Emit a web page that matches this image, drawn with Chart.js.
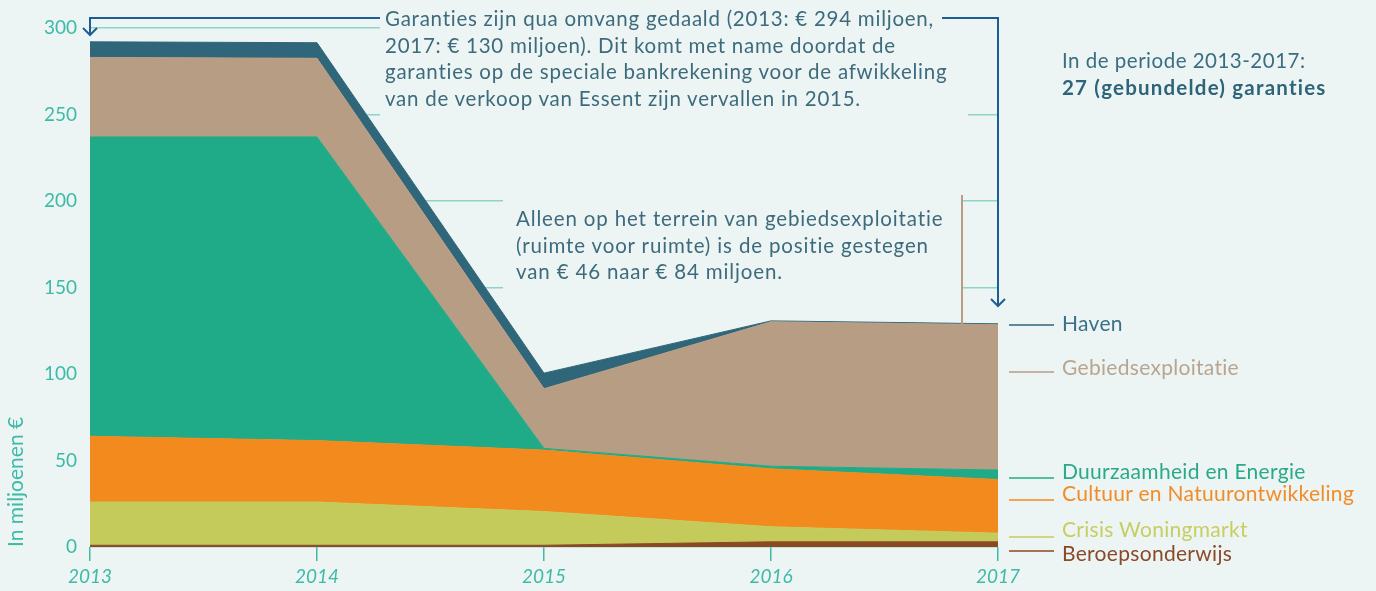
<!DOCTYPE html>
<html>
<head>
<meta charset="utf-8">
<script src="https://cdn.jsdelivr.net/npm/chart.js@4.4.1/dist/chart.umd.min.js"></script>
<style>
html, body { margin: 0; padding: 0; background: #ecf5f3; }
#wrap { position: relative; width: 1376px; height: 591px; font-family: Lato, 'Open Sans', sans-serif; }
#wrap canvas { position: absolute; left: 0; top: 0; }
.note { position: absolute; color: #3d6b7d; font-size: 20.5px; line-height: 26.7px; letter-spacing: 0.75px; white-space: nowrap; }
.leg { position: absolute; left: 1062px; font-size: 21px; line-height: 22px; letter-spacing: 0.3px; white-space: nowrap; }
</style>
</head>
<body>
<div id="wrap">
  <canvas id="garanties" width="1376" height="591"></canvas>

  <div class="note" style="left:385px; top:5px;">Garanties zijn qua omvang gedaald (2013: € 294 miljoen,<br>2017: € 130 miljoen). Dit komt met name doordat de<br>garanties op de speciale bankrekening voor de afwikkeling<br>van de verkoop van Essent zijn vervallen in 2015.</div>
  <div class="note" style="left:516px; top:205px; letter-spacing:0.85px;">Alleen op het terrein van gebiedsexploitatie<br>(ruimte voor ruimte) is de positie gestegen<br>van € 46 naar € 84 miljoen.</div>
  <div class="note" style="left:1062px; top:47px; color:#3a6e82; letter-spacing:0.5px;">In de periode 2013-2017:<br><b style="color:#2e6479; letter-spacing:1.2px;">27 (gebundelde) garanties</b></div>

  <div class="leg" style="top:312px; color:#3a7088;">Haven</div>
  <div class="leg" style="top:356px; color:#b9a58f;">Gebiedsexploitatie</div>
  <div class="leg" style="top:460px; color:#2aa98a;">Duurzaamheid en Energie</div>
  <div class="leg" style="top:482px; color:#f28c28;">Cultuur en Natuurontwikkeling</div>
  <div class="leg" style="top:518px; color:#c8cd62;">Crisis Woningmarkt</div>
  <div class="leg" style="top:542px; color:#8a4a2a;">Beroepsonderwijs</div>
</div>

<script>
'use strict';

// data, in miljoenen euro (stacked from the bottom up)
var years = ['2013', '2014', '2015', '2016', '2017'];
var beroepsonderwijs = [1, 1, 1, 3, 3];
var crisisWoningmarkt = [25, 25, 19.5, 8.7, 5];
var cultuurNatuur = [38, 35.5, 35.5, 33.5, 31];
var duurzaamheid = [173, 175.5, 1, 1.5, 5.5];
var gebiedsexploitatie = [46, 45.5, 34.5, 83.5, 84];
var haven = [9, 9, 9, 0.5, 0.5];
var yTicks = [0, 50, 100, 150, 200, 250, 300];

var bg = '#ecf5f3';
var teal = '#3dbaa8';
var arrowBlue = '#1d5e92';

var series = [
  { label: 'Beroepsonderwijs', data: beroepsonderwijs, color: '#8b4a22' },
  { label: 'Crisis Woningmarkt', data: crisisWoningmarkt, color: '#c5cb5b' },
  { label: 'Cultuur en Natuurontwikkeling', data: cultuurNatuur, color: '#f28a1e' },
  { label: 'Duurzaamheid en Energie', data: duurzaamheid, color: '#1fab87' },
  { label: 'Gebiedsexploitatie', data: gebiedsexploitatie, color: '#b79d84' },
  { label: 'Haven', data: haven, color: '#2f6679' }
];

// height of each legend dash on the right, same order as series
var legendLines = [551, 537, 500, 478, 372, 325];

var datasets = series.map(function(s, i) {
  return {
    label: s.label,
    data: s.data,
    backgroundColor: s.color,
    borderColor: s.color,
    borderWidth: 1,
    pointRadius: 0,
    tension: 0,
    fill: i === 0 ? 'origin' : '-1'
  };
});

function arrowDown(ctx, x, y) {
  ctx.beginPath();
  ctx.moveTo(x - 7, y - 7);
  ctx.lineTo(x, y);
  ctx.lineTo(x + 7, y - 7);
  ctx.stroke();
}

var notesPlugin = {
  id: 'notes',
  beforeDatasetsDraw: function(chart) {
    // the text boxes sit on top of the grid lines
    var ctx = chart.ctx;
    ctx.save();
    ctx.fillStyle = bg;
    ctx.fillRect(380, 0, 620, 40);
    ctx.fillRect(380, 40, 588, 82);
    ctx.fillRect(503, 185, 458, 115);
    ctx.restore();
  },
  afterDraw: function(chart) {
    var ctx = chart.ctx;
    var xs = chart.scales.x;
    var x0 = xs.getPixelForValue(0);
    var x4 = xs.getPixelForValue(4);
    ctx.save();
    ctx.strokeStyle = arrowBlue;
    ctx.lineWidth = 2;
    ctx.beginPath();
    ctx.moveTo(380, 18);
    ctx.lineTo(x0, 18);
    ctx.lineTo(x0, 35);
    ctx.stroke();
    arrowDown(ctx, x0, 35);
    ctx.beginPath();
    ctx.moveTo(942, 18);
    ctx.lineTo(x4, 18);
    ctx.lineTo(x4, 306);
    ctx.stroke();
    arrowDown(ctx, x4, 306);

    // tan marker next to the gebiedsexploitatie note
    var top2017 = chart.getDatasetMeta(4).data[4].y;
    ctx.strokeStyle = '#b79d84';
    ctx.beginPath();
    ctx.moveTo(962, 195);
    ctx.lineTo(962, top2017);
    ctx.stroke();

    // legend dashes
    ctx.lineWidth = 1.6;
    for (var i = 0; i < series.length; i++) {
      ctx.strokeStyle = series[i].color;
      ctx.beginPath();
      ctx.moveTo(1009, legendLines[i]);
      ctx.lineTo(1054, legendLines[i]);
      ctx.stroke();
    }
    ctx.restore();
  }
};

Chart.defaults.font.family = 'Lato, "Open Sans", sans-serif';

var ctx = document.getElementById('garanties').getContext('2d');
var chart = new Chart(ctx, {
  type: 'line',
  data: {
    labels: years,
    datasets: datasets
  },
  options: {
    responsive: false,
    animation: false,
    layout: { padding: { top: 28, right: 378, bottom: 0, left: 0 } },
    plugins: {
      legend: { display: false },
      tooltip: { enabled: false }
    },
    scales: {
      x: {
        offset: false,
        grid: { drawOnChartArea: false, drawTicks: true, tickLength: 14, color: teal, lineWidth: 1.5 },
        border: { display: false },
        ticks: { color: teal, padding: 4, font: { size: 19, style: 'italic' } },
        afterFit: function(scale) { scale.height = 44; }
      },
      y: {
        stacked: true,
        min: 0,
        max: 300,
        afterBuildTicks: function(scale) {
          scale.ticks = yTicks.map(function(v) { return { value: v }; });
        },
        grid: { color: '#8fd4c8', lineWidth: 1.5, drawTicks: false },
        border: { display: false },
        ticks: { color: teal, padding: 13, font: { size: 19 } },
        title: {
          display: true,
          text: 'In miljoenen €',
          align: 'start',
          color: teal,
          font: { size: 21 },
          padding: { top: 4, bottom: 0 }
        },
        afterFit: function(scale) { scale.width = 90; }
      }
    }
  },
  plugins: [notesPlugin]
});
</script>
</body>
</html>
